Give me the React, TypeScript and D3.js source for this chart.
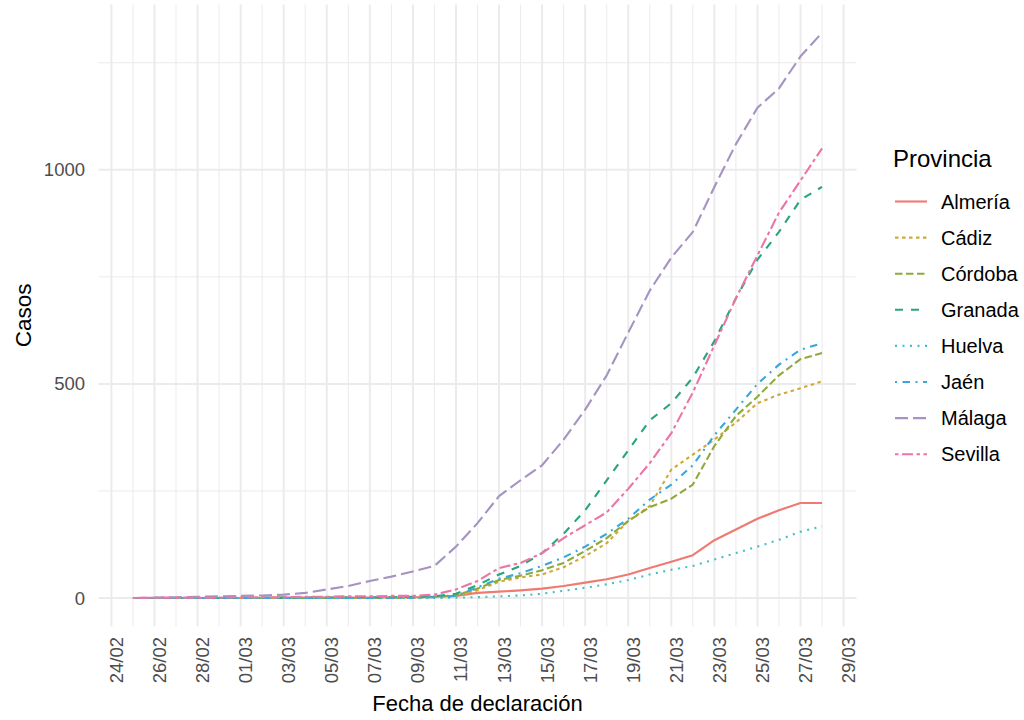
import React from "react";
import * as d3 from "d3";

const dates: string[] = [
  "2020-02-25","2020-02-26","2020-02-27","2020-02-28","2020-02-29",
  "2020-03-01","2020-03-02","2020-03-03","2020-03-04","2020-03-05",
  "2020-03-06","2020-03-07","2020-03-08","2020-03-09","2020-03-10",
  "2020-03-11","2020-03-12","2020-03-13","2020-03-14","2020-03-15",
  "2020-03-16","2020-03-17","2020-03-18","2020-03-19","2020-03-20",
  "2020-03-21","2020-03-22","2020-03-23","2020-03-24","2020-03-25",
  "2020-03-26","2020-03-27","2020-03-28",
];

const provinces: string[] = ["Almería","Cádiz","Córdoba","Granada","Huelva","Jaén","Málaga","Sevilla"];

const almeria = [0,0,0,0,0,0,0,1,1,1,1,1,2,2,3,5,12,15,18,22,28,36,44,55,70,85,100,135,160,185,205,222,222];
const cadiz =   [0,0,0,0,0,0,0,0,0,0,0,0,0,1,2,5,18,38,48,55,72,98,128,180,215,300,335,370,410,455,475,490,506];
const cordoba = [0,0,0,0,0,0,0,0,0,0,0,0,0,1,3,6,22,42,52,65,82,110,140,180,212,232,265,355,425,470,520,558,572];
const granada = [0,0,0,0,0,0,1,1,1,1,1,2,2,3,4,10,30,55,75,105,150,205,275,345,415,455,515,600,700,790,855,930,960];
const huelva =  [0,0,0,0,0,0,0,0,0,0,0,0,0,0,0,1,2,4,6,10,17,24,32,42,55,66,75,90,105,120,136,155,167];
const jaen =    [0,0,0,0,0,0,0,0,0,0,0,0,0,1,2,5,25,45,58,75,95,120,150,185,230,265,310,380,440,500,545,580,595];
const malaga =  [0,1,2,3,4,5,6,8,12,20,28,40,50,62,75,120,175,238,275,310,370,440,520,620,718,795,855,960,1060,1145,1190,1265,1320];
const sevilla = [0,1,1,1,1,2,2,2,3,3,4,4,5,5,8,20,40,70,82,105,140,170,200,255,315,385,480,590,700,800,900,975,1050];

const seriesValues: number[][] = [almeria, cadiz, cordoba, granada, huelva, jaen, malaga, sevilla];

const xTickLabels: string[] = [
  "24/02","26/02","28/02","01/03","03/03","05/03","07/03","09/03","11/03",
  "13/03","15/03","17/03","19/03","21/03","23/03","25/03","27/03","29/03",
];
const yTicks: number[] = [0, 500, 1000];
const yMinorTicks: number[] = [250, 750, 1250];

const colors = ["#ee7a72","#cfa93a","#8daa3a","#2aa57a","#45bfc6","#3aa6dc","#a593c2","#ec74a8"];
const dashes = ["none","3.5,3.5","7.5,3.5","8,8","2,5.5","2,5.5,7.5,5.5","13,5","3.5,3.5,11,3.5"];

const parse = d3.utcParse("%Y-%m-%d");
const parseTick = (s: string) => {
  const [dd, mm] = s.split("/");
  return parse(`2020-${mm}-${dd}`) as Date;
};

export default function App() {
  const W = 1024, H = 720;
  const pLeft = 98.5, pRight = 856.5, pTop = 4.5, pBottom = 626.3;
  const dts = dates.map((d) => parse(d) as Date);
  const [d0, d1] = d3.extent(dts) as [Date, Date];
  const span = +d1 - +d0;
  const x = d3.scaleUtc().domain([new Date(+d0 - span * 0.05), new Date(+d1 + span * 0.05)]).range([pLeft, pRight]);
  const yMax = d3.max(seriesValues.flat()) as number;
  const y = d3.scaleLinear().domain([-yMax * 0.05, yMax * 1.05]).range([pBottom, pTop]);

  const majors = xTickLabels.map(parseTick);
  const minors = majors.slice(1).map((m, i) => new Date((+m + +majors[i]) / 2));

  const line = d3.line<number>().x((_, i) => x(dts[i])).y((v) => y(v));
  const font = "'Liberation Sans', Arial, sans-serif";
  const grid = "#ebebeb";
  const lw = 2.1;

  return (
    <svg width={W} height={H} style={{ position: "absolute", left: 0, top: 0, background: "#fff" }} fontFamily={font}>
      <g>
        {yMinorTicks.map((t) => (
          <line key={"ym" + t} x1={pLeft} x2={pRight} y1={y(t)} y2={y(t)} stroke={grid} strokeWidth={1} />
        ))}
        {minors.map((m, i) => (
          <line key={"xm" + i} x1={x(m)} x2={x(m)} y1={pTop} y2={pBottom} stroke={grid} strokeWidth={1} />
        ))}
        {yTicks.map((t) => (
          <line key={"y" + t} x1={pLeft} x2={pRight} y1={y(t)} y2={y(t)} stroke={grid} strokeWidth={2} />
        ))}
        {majors.map((m, i) => (
          <line key={"x" + i} x1={x(m)} x2={x(m)} y1={pTop} y2={pBottom} stroke={grid} strokeWidth={2} />
        ))}
      </g>
      <g>
        {seriesValues.map((vals, i) => (
          <path key={provinces[i]} d={line(vals) || ""} fill="none" stroke={colors[i]} strokeWidth={lw}
            strokeDasharray={dashes[i]} strokeLinejoin="round" />
        ))}
      </g>
      <g fill="#4d4d4d" fontSize={18.5}>
        {yTicks.map((t) => (
          <text key={"yl" + t} x={85} y={y(t)} textAnchor="end" dominantBaseline="central">{t}</text>
        ))}
        {majors.map((m, i) => (
          <text key={"xl" + i} transform={`translate(${x(m) + 5},${637}) rotate(-90)`} textAnchor="end"
            dominantBaseline="central">{xTickLabels[i]}</text>
        ))}
      </g>
      <text x={(pLeft + pRight) / 2} y={711} textAnchor="middle" fontSize={22} fill="#000">Fecha de declaración</text>
      <text transform={`translate(31,${(pTop + pBottom) / 2}) rotate(-90)`} textAnchor="middle" fontSize={22.5} fill="#000">Casos</text>
      <g>
        <text x={893} y={167} fontSize={24} fill="#000">Provincia</text>
        {provinces.map((p, i) => {
          const cy = 201.5 + i * 36.1;
          return (
            <g key={p}>
              <line x1={895} x2={927} y1={cy} y2={cy} stroke={colors[i]} strokeWidth={lw} strokeDasharray={dashes[i]} />
              <text x={941} y={cy} fontSize={20} dominantBaseline="central" fill="#000">{p}</text>
            </g>
          );
        })}
      </g>
    </svg>
  );
}
